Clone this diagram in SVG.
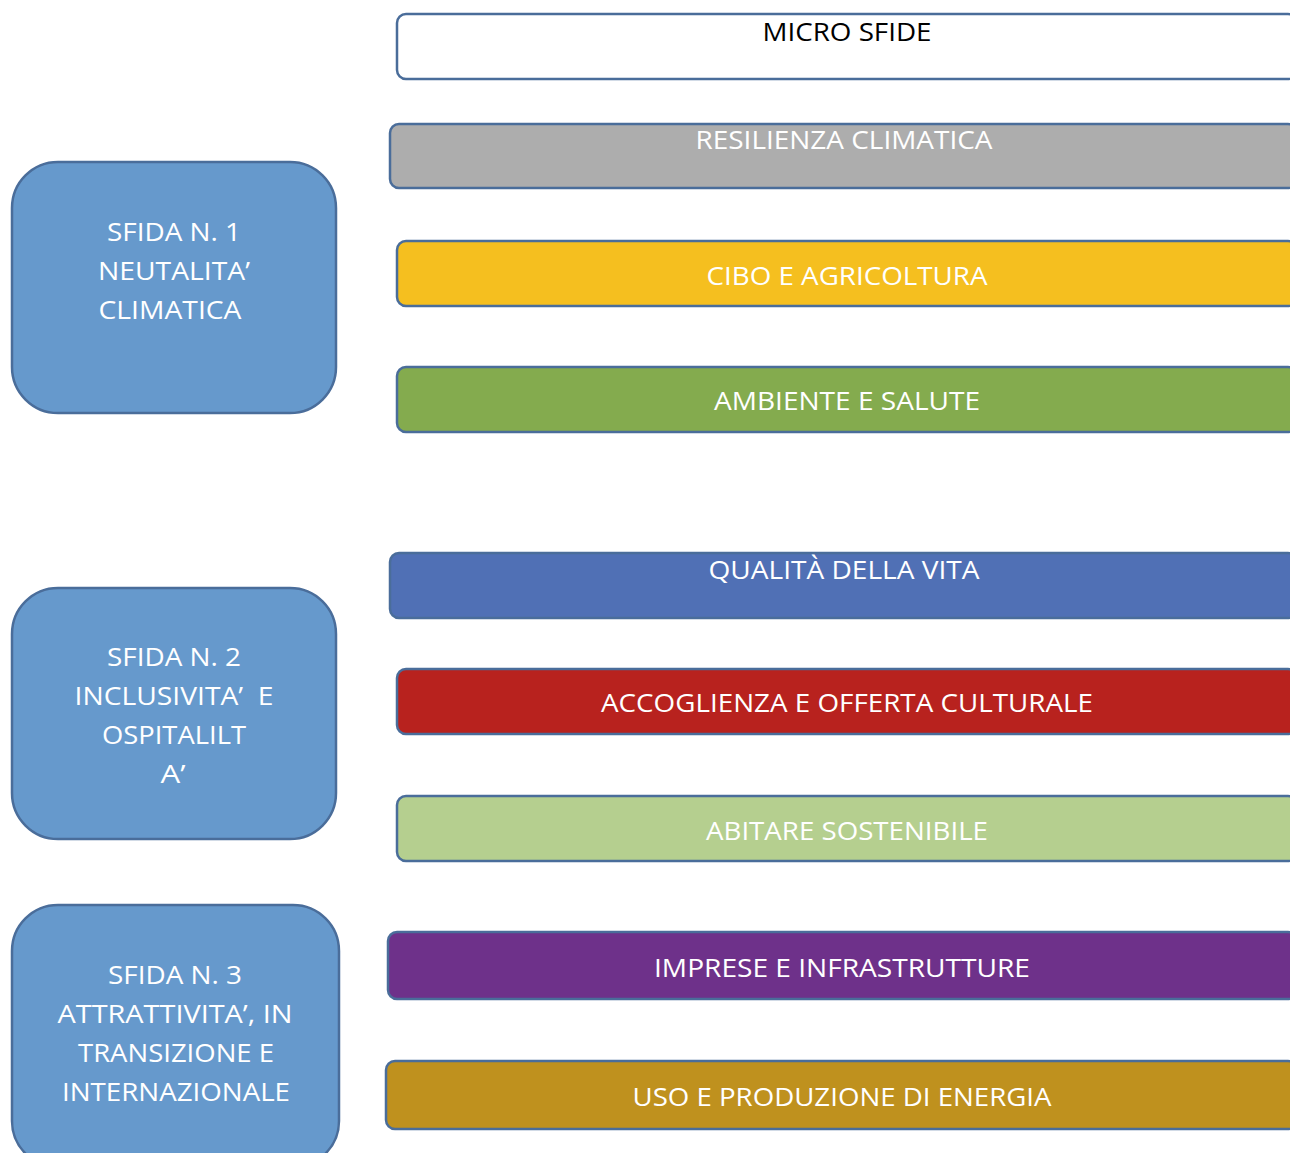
<svg xmlns="http://www.w3.org/2000/svg" width="1290" height="1153" viewBox="0 0 1290 1153">
  <style>
    .sfida { fill: #6699CC; stroke: #4A6D9A; stroke-width: 2.5; }
    .bar { stroke: #4A6D9A; stroke-width: 2.5; }
    text { font-family: "Open Sans", "Liberation Sans", sans-serif; font-size: 25.5px; fill: #FFFFFF; text-anchor: middle; }
    .dark { fill: #000000; }
    .pre { white-space: pre; }
  </style>
  <rect width="1290" height="1153" fill="#FFFFFF"/>

  <!-- macro challenges -->
  <g id="sfida-1">
    <rect class="sfida" x="12" y="162" width="324" height="251" rx="46"/>
    <text x="174" y="241" textLength="134" lengthAdjust="spacingAndGlyphs">SFIDA N. 1</text>
    <text x="174" y="280" textLength="152" lengthAdjust="spacingAndGlyphs">NEUTALITA’</text>
    <text x="170" y="319" textLength="143" lengthAdjust="spacingAndGlyphs">CLIMATICA</text>
  </g>
  <g id="sfida-2">
    <rect class="sfida" x="12" y="588" width="324" height="251" rx="46"/>
    <text x="174" y="666" textLength="134" lengthAdjust="spacingAndGlyphs">SFIDA N. 2</text>
    <text class="pre" x="174" y="705" textLength="199" lengthAdjust="spacingAndGlyphs">INCLUSIVITA’  E</text>
    <text x="174" y="744" textLength="144" lengthAdjust="spacingAndGlyphs">OSPITALILT</text>
    <text x="173" y="783" textLength="25" lengthAdjust="spacingAndGlyphs">A’</text>
  </g>
  <g id="sfida-3">
    <rect class="sfida" x="12" y="905" width="327" height="262" rx="46"/>
    <text x="175" y="984" textLength="134" lengthAdjust="spacingAndGlyphs">SFIDA N. 3</text>
    <text x="175" y="1023" textLength="235" lengthAdjust="spacingAndGlyphs">ATTRATTIVITA’, IN</text>
    <text x="176" y="1062" textLength="196" lengthAdjust="spacingAndGlyphs">TRANSIZIONE E</text>
    <text x="176" y="1101" textLength="228" lengthAdjust="spacingAndGlyphs">INTERNAZIONALE</text>
  </g>

  <!-- micro challenges -->
  <g id="micro-sfide">
    <rect class="bar" x="397" y="14" width="900" height="65" rx="9" fill="#FFFFFF"/>
    <text class="dark" x="847" y="41" textLength="169" lengthAdjust="spacingAndGlyphs">MICRO SFIDE</text>
  </g>
  <g id="resilienza-climatica">
    <rect class="bar" x="390" y="124" width="907" height="64" rx="9" fill="#ADADAD"/>
    <text x="844" y="149" textLength="297" lengthAdjust="spacingAndGlyphs">RESILIENZA CLIMATICA</text>
  </g>
  <g id="cibo-agricoltura">
    <rect class="bar" x="397" y="241" width="900" height="65" rx="9" fill="#F5BF1F"/>
    <text x="847" y="285" textLength="281" lengthAdjust="spacingAndGlyphs">CIBO E AGRICOLTURA</text>
  </g>
  <g id="ambiente-salute">
    <rect class="bar" x="397" y="367" width="900" height="65" rx="9" fill="#84AB4E"/>
    <text x="847" y="410" textLength="266" lengthAdjust="spacingAndGlyphs">AMBIENTE E SALUTE</text>
  </g>
  <g id="qualita-vita">
    <rect class="bar" x="390" y="553" width="907" height="65" rx="9" fill="#5070B5"/>
    <text x="844" y="579" textLength="271" lengthAdjust="spacingAndGlyphs">QUALITÀ DELLA VITA</text>
  </g>
  <g id="accoglienza">
    <rect class="bar" x="397" y="669" width="900" height="65" rx="9" fill="#B8221E"/>
    <text x="847" y="712" textLength="492" lengthAdjust="spacingAndGlyphs">ACCOGLIENZA E OFFERTA CULTURALE</text>
  </g>
  <g id="abitare-sostenibile">
    <rect class="bar" x="397" y="796" width="900" height="65" rx="9" fill="#B5CF8F"/>
    <text x="847" y="840" textLength="282" lengthAdjust="spacingAndGlyphs">ABITARE SOSTENIBILE</text>
  </g>
  <g id="imprese-infrastrutture">
    <rect class="bar" x="388" y="932" width="909" height="67" rx="9" fill="#6E318A"/>
    <text x="842" y="977" textLength="376" lengthAdjust="spacingAndGlyphs">IMPRESE E INFRASTRUTTURE</text>
  </g>
  <g id="energia">
    <rect class="bar" x="386" y="1061" width="911" height="68" rx="9" fill="#BF911E"/>
    <text x="842" y="1106" textLength="419" lengthAdjust="spacingAndGlyphs">USO E PRODUZIONE DI ENERGIA</text>
  </g>

  <!-- no connectors are drawn between the columns -->
  <g id="connectors"/>
</svg>
